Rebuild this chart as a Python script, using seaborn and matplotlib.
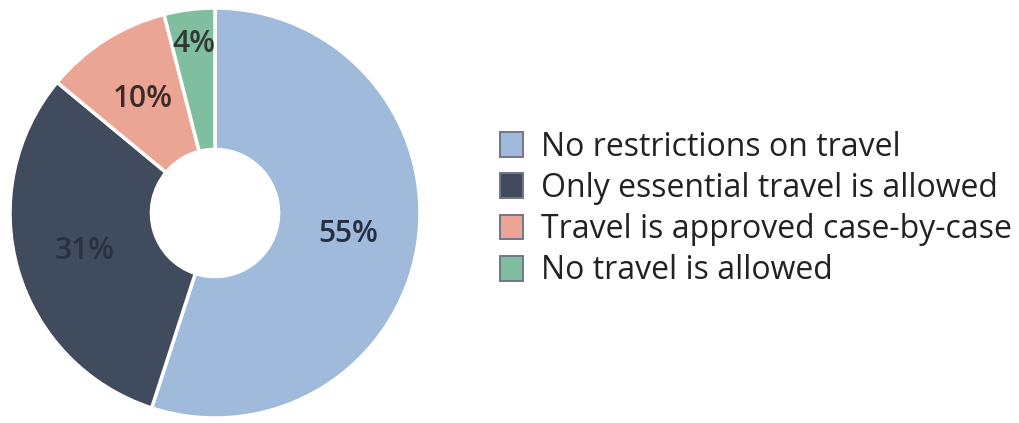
import matplotlib
matplotlib.use("Agg")
import matplotlib.pyplot as plt
import numpy as np
import seaborn as sns
from matplotlib.patches import Patch

categories = ["No restrictions on travel", "Only essential travel is allowed",
              "Travel is approved case-by-case", "No travel is allowed"]
values = [55, 31, 10, 4]
labels = ["55%", "31%", "10%", "4%"]
colors = ["#9fbadb", "#404b5d", "#eba595", "#7fbf9f"]
label_colors = ["#26303f", "#2a323f", "#3a2b29", "#2f3a35"]
label_radius = [0.66, 0.66, 0.66, 0.83]

sns.set_theme(style="white")
plt.rcParams['font.family'] = ['Open Sans', 'DejaVu Sans']

fig = plt.figure(figsize=(10.19, 4.23), dpi=100)
ax = fig.add_axes([10/1019, 5/423, 410/1019, 410/423])
wedges, _ = ax.pie(values, colors=colors, startangle=90, counterclock=False,
                   radius=1.0,
                   wedgeprops=dict(width=0.69, edgecolor="white", linewidth=2.5))
ax.set_xlim(-1, 1)
ax.set_ylim(-1, 1)
ax.set_aspect("equal")
ax.axis("off")

total = sum(values)
cum = 0
for v, lab, lc, r in zip(values, labels, label_colors, label_radius):
    mid = 90 - (cum + v / 2) / total * 360
    cum += v
    a = np.deg2rad(mid)
    ax.text(r * np.cos(a), r * np.sin(a), lab, ha="center", va="center",
            fontsize=21.5, color=lc, fontweight="semibold")

handles = [Patch(facecolor=c, edgecolor="#6f7788", linewidth=1.4) for c in colors]
fig.legend(handles, categories, loc="center left", bbox_to_anchor=(500/1019, 0.506),
           frameon=False, fontsize=23, handlelength=0.72, handleheight=0.8,
           handletextpad=0.55, labelspacing=0.26, borderpad=0, borderaxespad=0,
           labelcolor="#222222")

fig.savefig("out.png", dpi=100)
